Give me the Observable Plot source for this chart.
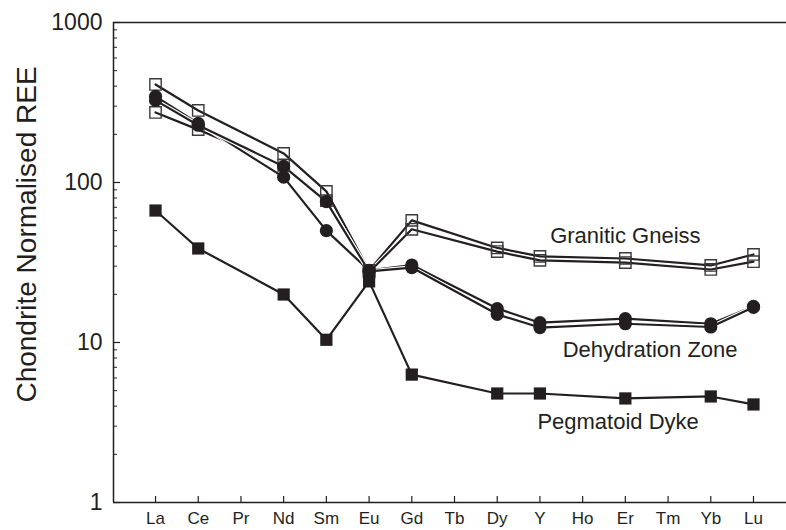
<!DOCTYPE html>
<html><head><meta charset="utf-8">
<script src="https://cdn.jsdelivr.net/npm/d3@7"></script>
<script src="https://cdn.jsdelivr.net/npm/@observablehq/plot@0.6"></script>
<style>
body{margin:0;background:#fff;}
#chart svg{display:block;}
</style></head><body><div id="chart"></div>
<script>
// REE categories (x axis)
const elements = ["La","Ce","Pr","Nd","Sm","Eu","Gd","Tb","Dy","Y","Ho","Er","Tm","Yb","Lu"];
// Series values (chondrite normalised), null = not measured
const graniticGneiss1   = [410, 282, null, 152, 88, 28.2, 58, null, 39, 34.5, null, 33.5, null, 30.3, 35.5];
const graniticGneiss2   = [274, 214, null, 128, 77, 27.5, 51, null, 37, 32.6, null, 31.6, null, 28.6, 32.0];
const dehydrationZone1  = [345, 234, null, 108, 50, 28.2, 30.5, null, 16.3, 13.3, null, 14.1, null, 13.1, 16.8];
const dehydrationZone2  = [326, 228, null, 126, 76, 27.8, 29.4, null, 15.0, 12.4, null, 13.1, null, 12.5, 16.6];
const pegmatoidDyke     = [66.8, 38.7, null, 19.95, 10.4, 24.1, 6.3, null, 4.8, 4.8, null, 4.47, null, 4.6, 4.1];
// Axis ticks
const yTicks = [1, 10, 100, 1000];
const yMinorTicks = [2,3,4,5,6,7,8,9,20,30,40,50,60,70,80,90,200,300,400,500,600,700,800,900];
// Group labels (placed in data coordinates)
const groupLabels = ["Granitic Gneiss", "Dehydration Zone", "Pegmatoid Dyke"];
const groupLabelX = [11.0, 11.58, 10.83];
const groupLabelY = [46.6, 9.04, 3.19];

const ink = "#231f20";
const series = [
  {values: graniticGneiss1, marker: "open"},
  {values: graniticGneiss2, marker: "open"},
  {values: dehydrationZone1, marker: "circle"},
  {values: dehydrationZone2, marker: "circle"},
  {values: pegmatoidDyke, marker: "square"}
];
const pts = s => s.values.map((v, i) => ({i, v})).filter(d => d.v != null);

const W = 786, H = 530, ML = 113, MR = 0, MT = 22, MB = 28;
const frameW = W - ML - MR, frameH = H - MT - MB;
const xDomain = [-0.984, 14.773];

const marks = [];
// lines with white halo
series.forEach(s => {
  const p = pts(s);
  marks.push(Plot.line(p, {x: "i", y: "v", stroke: "white", strokeWidth: 4.4}));
  marks.push(Plot.line(p, {x: "i", y: "v", stroke: ink, strokeWidth: 2.2}));
});
// markers
series.forEach(s => {
  const p = pts(s);
  if (s.marker === "open") marks.push(Plot.dot(p, {x: "i", y: "v", symbol: "square", r: 6.4, fill: "none", stroke: "#3a3a3a", strokeWidth: 1.4}));
  if (s.marker === "circle") marks.push(Plot.dot(p, {x: "i", y: "v", symbol: "circle", r: 6.6, fill: ink}));
  if (s.marker === "square") marks.push(Plot.dot(p, {x: "i", y: "v", symbol: "square", r: 6.9, fill: ink}));
});

// frame lines
marks.push(Plot.ruleX([xDomain[0]], {x: d => d, stroke: ink, strokeWidth: 1.5}));
marks.push(Plot.ruleY([1], {y: d => d, stroke: ink, strokeWidth: 1.5}));
marks.push(Plot.ruleY([1000], {y: d => d, stroke: ink, strokeWidth: 1.5}));
// inward ticks
marks.push(Plot.tickX(d3.range(elements.length), {x: d => d, insetTop: frameH - 6, stroke: ink, strokeWidth: 1.2}));
marks.push(Plot.tickY(yTicks, {y: d => d, insetRight: frameW - 7, stroke: ink, strokeWidth: 1.2}));
marks.push(Plot.tickY(yMinorTicks, {y: d => d, insetRight: frameW - 4, stroke: ink, strokeWidth: 1}));
// tick labels
marks.push(Plot.text(elements, {x: (d, i) => i, frameAnchor: "bottom", dy: 16.5, text: d => d, fontSize: 17, fill: ink, lineAnchor: "middle"}));
marks.push(Plot.text(yTicks, {y: d => d, frameAnchor: "left", dx: -11, text: d => String(d), textAnchor: "end", fontSize: 23, fill: ink, lineAnchor: "middle"}));
// y title
marks.push(Plot.text(["Chondrite Normalised REE"], {frameAnchor: "left", dx: -86, dy: -28, rotate: -90, text: d => d, textAnchor: "middle", fontSize: 28, fill: ink, lineAnchor: "middle"}));
// group labels
marks.push(Plot.text(groupLabels, {x: (d, i) => groupLabelX[i], y: (d, i) => groupLabelY[i], text: d => d, fontSize: 22, fill: ink, lineAnchor: "middle"}));

const chart = Plot.plot({
  width: W, height: H,
  marginLeft: ML, marginRight: MR, marginTop: MT, marginBottom: MB,
  x: {type: "linear", domain: xDomain, axis: null},
  y: {type: "log", domain: [1, 1000], axis: null},
  style: {fontFamily: "'Liberation Sans', Arial, sans-serif", background: "white", overflow: "visible"},
  marks
});
document.getElementById("chart").appendChild(chart);
</script>
</body></html>
